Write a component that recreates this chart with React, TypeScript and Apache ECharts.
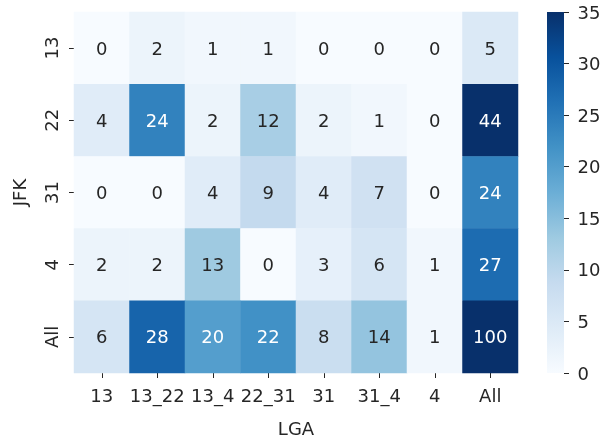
import React, { useEffect, useRef } from "react";
import * as echarts from "echarts";

const lgaCategories = ["13", "13_22", "13_4", "22_31", "31", "31_4", "4", "All"];
const jfkCategories = ["13", "22", "31", "4", "All"];
const row13 = [0, 2, 1, 1, 0, 0, 0, 5];
const row22 = [4, 24, 2, 12, 2, 1, 0, 44];
const row31 = [0, 0, 4, 9, 4, 7, 0, 24];
const row4 = [2, 2, 13, 0, 3, 6, 1, 27];
const rowAll = [6, 28, 20, 22, 8, 14, 1, 100];
const rows = [row13, row22, row31, row4, rowAll];
const colorbarTicks = [0, 5, 10, 15, 20, 25, 30, 35];

const blues = ["#f7fbff", "#deebf7", "#c6dbef", "#9ecae1", "#6baed6", "#4292c6", "#2171b5", "#08519c", "#08306b"];
const FONT = "DejaVu Sans";
const TEXT = "#262626";
const FS = 18;

export default function App() {
  const ref = useRef<HTMLDivElement>(null);
  useEffect(() => {
    const chart = echarts.init(ref.current!, null, { renderer: "svg" });
    const data: any[] = [];
    rows.forEach((r, yi) =>
      r.forEach((v, xi) => {
        data.push({ value: [xi, yi, v], label: { color: v >= 17 ? "#ffffff" : TEXT } });
      })
    );
    const vmax = colorbarTicks[colorbarTicks.length - 1];
    chart.setOption({
      animation: false,
      textStyle: { fontFamily: FONT },
      grid: [
        { left: 74, top: 12, width: 444, height: 361, outerBoundsMode: "none", containLabel: false },
        { left: 547, top: 12, width: 17, height: 361, outerBoundsMode: "none", containLabel: false },
      ],
      xAxis: [
        {
          type: "category",
          gridIndex: 0,
          data: lgaCategories,
          name: "LGA",
          nameLocation: "middle",
          nameGap: 46,
          nameTextStyle: { fontSize: FS, color: TEXT, fontFamily: FONT },
          axisLine: { show: false },
          axisTick: { show: true, alignWithLabel: true, length: 5, lineStyle: { color: TEXT } },
          axisLabel: { fontSize: FS, color: TEXT, margin: 13, fontFamily: FONT, interval: 0 },
          splitLine: { show: false },
        },
        {
          type: "category",
          gridIndex: 1,
          data: ["c"],
          show: false,
        },
      ],
      yAxis: [
        {
          type: "category",
          gridIndex: 0,
          data: jfkCategories,
          inverse: true,
          name: "JFK",
          nameLocation: "middle",
          nameGap: 45.5,
          nameRotate: 90,
          nameTextStyle: { fontSize: FS, color: TEXT, fontFamily: FONT },
          axisLine: { show: false },
          axisTick: { show: true, alignWithLabel: true, length: 5, lineStyle: { color: TEXT } },
          axisLabel: { fontSize: FS, color: TEXT, margin: 14, rotate: 90, fontFamily: FONT },
          splitLine: { show: false },
        },
        {
          type: "value",
          gridIndex: 1,
          position: "right",
          min: 0,
          max: vmax,
          interval: 5,
          axisLine: { show: false },
          axisTick: { show: true, length: 5, lineStyle: { color: TEXT } },
          axisLabel: { fontSize: FS, color: TEXT, margin: 13.5, fontFamily: FONT },
          splitLine: { show: false },
        },
      ],
      visualMap: {
        show: false,
        seriesIndex: 0,
        min: 0,
        max: vmax,
        dimension: 2,
        inRange: { color: blues },
      },
      series: [
        {
          type: "heatmap",
          xAxisIndex: 0,
          yAxisIndex: 0,
          data,
          label: { show: true, fontSize: FS, fontFamily: FONT },
          itemStyle: { borderWidth: 0 },
          emphasis: { disabled: true },
        },
        {
          type: "bar",
          xAxisIndex: 1,
          yAxisIndex: 1,
          data: [vmax],
          barWidth: "100%",
          itemStyle: {
            color: new echarts.graphic.LinearGradient(
              0, 1, 0, 0,
              blues.map((c, i) => ({ offset: i / (blues.length - 1), color: c }))
            ),
          },
          silent: true,
        },
      ],
    });
    return () => chart.dispose();
  }, []);
  return <div ref={ref} style={{ position: "fixed", left: 0, top: 0, width: 600, height: 438 }} />;
}
